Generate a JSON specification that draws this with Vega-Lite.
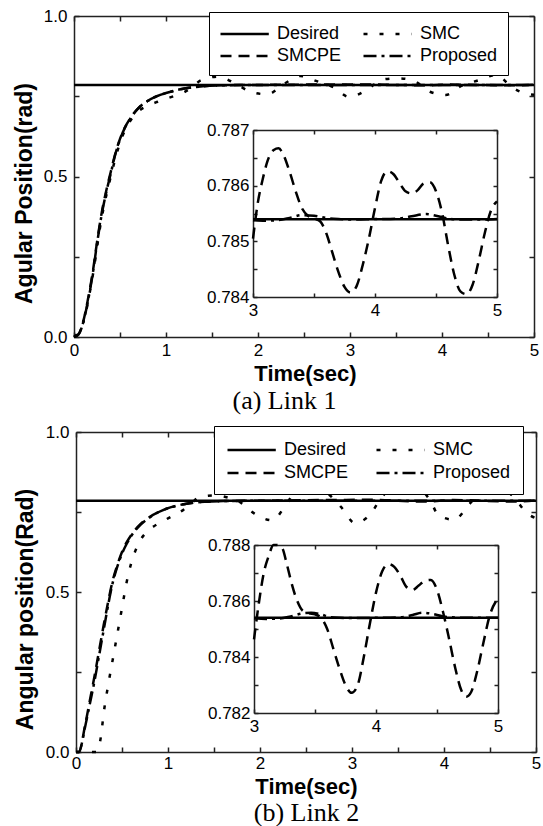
{
  "$schema": "https://vega.github.io/schema/vega-lite/v6.json",
  "background": "white",
  "width": 543,
  "height": 826,
  "autosize": {"type": "none"},
  "padding": 0,
  "config": {
    "view": {"stroke": null},
    "axis": {"grid": false, "domain": true, "domainColor": "#222", "domainWidth": 1.5, "labelFont": "Liberation Sans", "labelFontSize": 17, "labelColor": "black", "labelFlush": false, "labelOverlap": false, "tickColor": "#222", "tickWidth": 1.5, "titleFont": "Liberation Sans", "titleFontSize": 23, "titleFontWeight": "bold", "titleColor": "black"},
    "legend": {"labelFont": "Liberation Sans", "labelFontSize": 18, "labelColor": "black"}
  },
  "datasets": {
    "mainA": [
      {"series": "Desired", "time": 0, "pos": 0.7854}, {"series": "Desired", "time": 5, "pos": 0.7854},
      {"series": "SMC", "time": 0, "pos": 0}, {"series": "SMC", "time": 0.1, "pos": 0.045}, {"series": "SMC", "time": 0.2, "pos": 0.185}, {"series": "SMC", "time": 0.3, "pos": 0.37}, {"series": "SMC", "time": 0.4, "pos": 0.5}, {"series": "SMC", "time": 0.5, "pos": 0.605}, {"series": "SMC", "time": 0.6, "pos": 0.668}, {"series": "SMC", "time": 0.7, "pos": 0.703}, {"series": "SMC", "time": 0.8, "pos": 0.72}, {"series": "SMC", "time": 0.9, "pos": 0.732}, {"series": "SMC", "time": 1.0, "pos": 0.742}, {"series": "SMC", "time": 1.1, "pos": 0.752}, {"series": "SMC", "time": 1.2, "pos": 0.763}, {"series": "SMC", "time": 1.3, "pos": 0.782}, {"series": "SMC", "time": 1.38, "pos": 0.8}, {"series": "SMC", "time": 1.57, "pos": 0.811}, {"series": "SMC", "time": 1.75, "pos": 0.79}, {"series": "SMC", "time": 1.92, "pos": 0.764}, {"series": "SMC", "time": 2.1, "pos": 0.756}, {"series": "SMC", "time": 2.29, "pos": 0.79}, {"series": "SMC", "time": 2.46, "pos": 0.813}, {"series": "SMC", "time": 2.63, "pos": 0.798}, {"series": "SMC", "time": 2.82, "pos": 0.778}, {"series": "SMC", "time": 2.99, "pos": 0.748}, {"series": "SMC", "time": 3.18, "pos": 0.769}, {"series": "SMC", "time": 3.35, "pos": 0.802}, {"series": "SMC", "time": 3.52, "pos": 0.806}, {"series": "SMC", "time": 3.68, "pos": 0.8}, {"series": "SMC", "time": 3.87, "pos": 0.764}, {"series": "SMC", "time": 4.04, "pos": 0.754}, {"series": "SMC", "time": 4.21, "pos": 0.782}, {"series": "SMC", "time": 4.4, "pos": 0.8}, {"series": "SMC", "time": 4.59, "pos": 0.816}, {"series": "SMC", "time": 4.76, "pos": 0.778}, {"series": "SMC", "time": 4.93, "pos": 0.757}, {"series": "SMC", "time": 5.0, "pos": 0.755},
      {"series": "SMCPE", "time": 0, "pos": 0}, {"series": "SMCPE", "time": 0.05, "pos": 0.009}, {"series": "SMCPE", "time": 0.1, "pos": 0.048}, {"series": "SMCPE", "time": 0.15, "pos": 0.115}, {"series": "SMCPE", "time": 0.2, "pos": 0.195}, {"series": "SMCPE", "time": 0.25, "pos": 0.295}, {"series": "SMCPE", "time": 0.3, "pos": 0.385}, {"series": "SMCPE", "time": 0.35, "pos": 0.455}, {"series": "SMCPE", "time": 0.4, "pos": 0.515}, {"series": "SMCPE", "time": 0.45, "pos": 0.572}, {"series": "SMCPE", "time": 0.5, "pos": 0.617}, {"series": "SMCPE", "time": 0.55, "pos": 0.651}, {"series": "SMCPE", "time": 0.6, "pos": 0.676}, {"series": "SMCPE", "time": 0.7, "pos": 0.713}, {"series": "SMCPE", "time": 0.8, "pos": 0.735}, {"series": "SMCPE", "time": 0.9, "pos": 0.75}, {"series": "SMCPE", "time": 1.0, "pos": 0.76}, {"series": "SMCPE", "time": 1.1, "pos": 0.768}, {"series": "SMCPE", "time": 1.2, "pos": 0.774}, {"series": "SMCPE", "time": 1.4, "pos": 0.781}, {"series": "SMCPE", "time": 1.6, "pos": 0.784}, {"series": "SMCPE", "time": 2.0, "pos": 0.7853}, {"series": "SMCPE", "time": 3.2, "pos": 0.7867}, {"series": "SMCPE", "time": 3.8, "pos": 0.7841}, {"series": "SMCPE", "time": 4.1, "pos": 0.7863}, {"series": "SMCPE", "time": 4.75, "pos": 0.7841}, {"series": "SMCPE", "time": 5.0, "pos": 0.7857},
      {"series": "Proposed", "time": 0, "pos": 0}, {"series": "Proposed", "time": 0.05, "pos": 0.008}, {"series": "Proposed", "time": 0.1, "pos": 0.045}, {"series": "Proposed", "time": 0.15, "pos": 0.11}, {"series": "Proposed", "time": 0.2, "pos": 0.19}, {"series": "Proposed", "time": 0.25, "pos": 0.29}, {"series": "Proposed", "time": 0.3, "pos": 0.38}, {"series": "Proposed", "time": 0.35, "pos": 0.45}, {"series": "Proposed", "time": 0.4, "pos": 0.51}, {"series": "Proposed", "time": 0.45, "pos": 0.57}, {"series": "Proposed", "time": 0.5, "pos": 0.615}, {"series": "Proposed", "time": 0.55, "pos": 0.65}, {"series": "Proposed", "time": 0.6, "pos": 0.675}, {"series": "Proposed", "time": 0.7, "pos": 0.713}, {"series": "Proposed", "time": 0.8, "pos": 0.735}, {"series": "Proposed", "time": 0.9, "pos": 0.75}, {"series": "Proposed", "time": 1.0, "pos": 0.76}, {"series": "Proposed", "time": 1.1, "pos": 0.768}, {"series": "Proposed", "time": 1.2, "pos": 0.774}, {"series": "Proposed", "time": 1.3, "pos": 0.778}, {"series": "Proposed", "time": 1.4, "pos": 0.781}, {"series": "Proposed", "time": 1.6, "pos": 0.784}, {"series": "Proposed", "time": 1.8, "pos": 0.785}, {"series": "Proposed", "time": 2.0, "pos": 0.7853}, {"series": "Proposed", "time": 3.0, "pos": 0.7854}, {"series": "Proposed", "time": 5.0, "pos": 0.7854}
    ],
    "insetA": [
      {"series": "Desired", "time": 3, "pos": 0.785398}, {"series": "Desired", "time": 5, "pos": 0.785398},
      {"series": "SMCPE", "time": 3.0, "pos": 0.78505}, {"series": "SMCPE", "time": 3.04, "pos": 0.7857}, {"series": "SMCPE", "time": 3.08, "pos": 0.78612}, {"series": "SMCPE", "time": 3.12, "pos": 0.78645}, {"series": "SMCPE", "time": 3.17, "pos": 0.78664}, {"series": "SMCPE", "time": 3.21, "pos": 0.78667}, {"series": "SMCPE", "time": 3.25, "pos": 0.78655}, {"series": "SMCPE", "time": 3.3, "pos": 0.78625}, {"series": "SMCPE", "time": 3.35, "pos": 0.7859}, {"series": "SMCPE", "time": 3.4, "pos": 0.7856}, {"series": "SMCPE", "time": 3.45, "pos": 0.78546}, {"series": "SMCPE", "time": 3.5, "pos": 0.78541}, {"series": "SMCPE", "time": 3.55, "pos": 0.78536}, {"series": "SMCPE", "time": 3.6, "pos": 0.78515}, {"series": "SMCPE", "time": 3.65, "pos": 0.7848}, {"series": "SMCPE", "time": 3.7, "pos": 0.78445}, {"series": "SMCPE", "time": 3.75, "pos": 0.78418}, {"series": "SMCPE", "time": 3.8, "pos": 0.78408}, {"series": "SMCPE", "time": 3.85, "pos": 0.7842}, {"series": "SMCPE", "time": 3.9, "pos": 0.78458}, {"series": "SMCPE", "time": 3.95, "pos": 0.78505}, {"series": "SMCPE", "time": 4.0, "pos": 0.7856}, {"series": "SMCPE", "time": 4.05, "pos": 0.78608}, {"series": "SMCPE", "time": 4.1, "pos": 0.78626}, {"series": "SMCPE", "time": 4.15, "pos": 0.78621}, {"series": "SMCPE", "time": 4.2, "pos": 0.78605}, {"series": "SMCPE", "time": 4.25, "pos": 0.7859}, {"series": "SMCPE", "time": 4.3, "pos": 0.78586}, {"series": "SMCPE", "time": 4.35, "pos": 0.78592}, {"series": "SMCPE", "time": 4.4, "pos": 0.78604}, {"series": "SMCPE", "time": 4.45, "pos": 0.78606}, {"series": "SMCPE", "time": 4.5, "pos": 0.7859}, {"series": "SMCPE", "time": 4.55, "pos": 0.78551}, {"series": "SMCPE", "time": 4.6, "pos": 0.78492}, {"series": "SMCPE", "time": 4.65, "pos": 0.7844}, {"series": "SMCPE", "time": 4.7, "pos": 0.7841}, {"series": "SMCPE", "time": 4.75, "pos": 0.78405}, {"series": "SMCPE", "time": 4.8, "pos": 0.78422}, {"series": "SMCPE", "time": 4.85, "pos": 0.78465}, {"series": "SMCPE", "time": 4.9, "pos": 0.78515}, {"series": "SMCPE", "time": 4.95, "pos": 0.78555}, {"series": "SMCPE", "time": 5.0, "pos": 0.78572},
      {"series": "Proposed", "time": 3.0, "pos": 0.78538}, {"series": "Proposed", "time": 3.1, "pos": 0.78537}, {"series": "Proposed", "time": 3.2, "pos": 0.78538}, {"series": "Proposed", "time": 3.3, "pos": 0.78542}, {"series": "Proposed", "time": 3.4, "pos": 0.78547}, {"series": "Proposed", "time": 3.5, "pos": 0.78546}, {"series": "Proposed", "time": 3.6, "pos": 0.78542}, {"series": "Proposed", "time": 3.7, "pos": 0.7854}, {"series": "Proposed", "time": 3.8, "pos": 0.78539}, {"series": "Proposed", "time": 4.0, "pos": 0.7854}, {"series": "Proposed", "time": 4.2, "pos": 0.78541}, {"series": "Proposed", "time": 4.3, "pos": 0.78545}, {"series": "Proposed", "time": 4.42, "pos": 0.78549}, {"series": "Proposed", "time": 4.5, "pos": 0.78546}, {"series": "Proposed", "time": 4.6, "pos": 0.78541}, {"series": "Proposed", "time": 4.7, "pos": 0.78539}, {"series": "Proposed", "time": 4.85, "pos": 0.78539}, {"series": "Proposed", "time": 5.0, "pos": 0.7854}
    ],
    "mainB": [
      {"series": "Desired", "time": 0, "pos": 0.7854}, {"series": "Desired", "time": 5, "pos": 0.7854},
      {"series": "SMC", "time": 0, "pos": 0}, {"series": "SMC", "time": 0.22, "pos": 0}, {"series": "SMC", "time": 0.26, "pos": 0.03}, {"series": "SMC", "time": 0.31, "pos": 0.14}, {"series": "SMC", "time": 0.35, "pos": 0.21}, {"series": "SMC", "time": 0.4, "pos": 0.29}, {"series": "SMC", "time": 0.45, "pos": 0.37}, {"series": "SMC", "time": 0.5, "pos": 0.45}, {"series": "SMC", "time": 0.55, "pos": 0.53}, {"series": "SMC", "time": 0.6, "pos": 0.59}, {"series": "SMC", "time": 0.65, "pos": 0.632}, {"series": "SMC", "time": 0.7, "pos": 0.662}, {"series": "SMC", "time": 0.8, "pos": 0.695}, {"series": "SMC", "time": 0.9, "pos": 0.715}, {"series": "SMC", "time": 1.0, "pos": 0.73}, {"series": "SMC", "time": 1.08, "pos": 0.742}, {"series": "SMC", "time": 1.16, "pos": 0.755}, {"series": "SMC", "time": 1.25, "pos": 0.775}, {"series": "SMC", "time": 1.33, "pos": 0.795}, {"series": "SMC", "time": 1.5, "pos": 0.802}, {"series": "SMC", "time": 1.65, "pos": 0.795}, {"series": "SMC", "time": 1.77, "pos": 0.783}, {"series": "SMC", "time": 1.94, "pos": 0.745}, {"series": "SMC", "time": 2.13, "pos": 0.724}, {"series": "SMC", "time": 2.28, "pos": 0.771}, {"series": "SMC", "time": 2.4, "pos": 0.818}, {"series": "SMC", "time": 2.55, "pos": 0.824}, {"series": "SMC", "time": 2.71, "pos": 0.812}, {"series": "SMC", "time": 2.88, "pos": 0.766}, {"series": "SMC", "time": 3.03, "pos": 0.716}, {"series": "SMC", "time": 3.2, "pos": 0.743}, {"series": "SMC", "time": 3.32, "pos": 0.795}, {"series": "SMC", "time": 3.49, "pos": 0.83}, {"series": "SMC", "time": 3.68, "pos": 0.83}, {"series": "SMC", "time": 3.85, "pos": 0.786}, {"series": "SMC", "time": 3.94, "pos": 0.74}, {"series": "SMC", "time": 4.11, "pos": 0.726}, {"series": "SMC", "time": 4.28, "pos": 0.776}, {"series": "SMC", "time": 4.45, "pos": 0.826}, {"series": "SMC", "time": 4.6, "pos": 0.826}, {"series": "SMC", "time": 4.75, "pos": 0.799}, {"series": "SMC", "time": 4.9, "pos": 0.747}, {"series": "SMC", "time": 5.0, "pos": 0.73},
      {"series": "SMCPE", "time": 0, "pos": 0}, {"series": "SMCPE", "time": 0.03, "pos": 0}, {"series": "SMCPE", "time": 0.1, "pos": 0.085}, {"series": "SMCPE", "time": 0.15, "pos": 0.16}, {"series": "SMCPE", "time": 0.2, "pos": 0.235}, {"series": "SMCPE", "time": 0.25, "pos": 0.315}, {"series": "SMCPE", "time": 0.3, "pos": 0.395}, {"series": "SMCPE", "time": 0.35, "pos": 0.47}, {"series": "SMCPE", "time": 0.4, "pos": 0.537}, {"series": "SMCPE", "time": 0.45, "pos": 0.585}, {"series": "SMCPE", "time": 0.5, "pos": 0.625}, {"series": "SMCPE", "time": 0.55, "pos": 0.655}, {"series": "SMCPE", "time": 0.6, "pos": 0.678}, {"series": "SMCPE", "time": 0.7, "pos": 0.712}, {"series": "SMCPE", "time": 0.8, "pos": 0.734}, {"series": "SMCPE", "time": 0.9, "pos": 0.75}, {"series": "SMCPE", "time": 1.0, "pos": 0.762}, {"series": "SMCPE", "time": 1.1, "pos": 0.77}, {"series": "SMCPE", "time": 1.2, "pos": 0.776}, {"series": "SMCPE", "time": 1.4, "pos": 0.782}, {"series": "SMCPE", "time": 1.6, "pos": 0.784}, {"series": "SMCPE", "time": 2.0, "pos": 0.7853}, {"series": "SMCPE", "time": 3.2, "pos": 0.788}, {"series": "SMCPE", "time": 3.8, "pos": 0.7827}, {"series": "SMCPE", "time": 4.1, "pos": 0.7873}, {"series": "SMCPE", "time": 4.75, "pos": 0.7826}, {"series": "SMCPE", "time": 5.0, "pos": 0.7861},
      {"series": "Proposed", "time": 0, "pos": 0}, {"series": "Proposed", "time": 0.03, "pos": 0}, {"series": "Proposed", "time": 0.1, "pos": 0.08}, {"series": "Proposed", "time": 0.15, "pos": 0.15}, {"series": "Proposed", "time": 0.2, "pos": 0.22}, {"series": "Proposed", "time": 0.25, "pos": 0.3}, {"series": "Proposed", "time": 0.3, "pos": 0.38}, {"series": "Proposed", "time": 0.35, "pos": 0.46}, {"series": "Proposed", "time": 0.4, "pos": 0.53}, {"series": "Proposed", "time": 0.45, "pos": 0.58}, {"series": "Proposed", "time": 0.5, "pos": 0.62}, {"series": "Proposed", "time": 0.55, "pos": 0.65}, {"series": "Proposed", "time": 0.6, "pos": 0.675}, {"series": "Proposed", "time": 0.7, "pos": 0.71}, {"series": "Proposed", "time": 0.8, "pos": 0.733}, {"series": "Proposed", "time": 0.9, "pos": 0.75}, {"series": "Proposed", "time": 1.0, "pos": 0.762}, {"series": "Proposed", "time": 1.1, "pos": 0.77}, {"series": "Proposed", "time": 1.2, "pos": 0.776}, {"series": "Proposed", "time": 1.4, "pos": 0.782}, {"series": "Proposed", "time": 1.6, "pos": 0.784}, {"series": "Proposed", "time": 2.0, "pos": 0.7853}, {"series": "Proposed", "time": 3.0, "pos": 0.7854}, {"series": "Proposed", "time": 5.0, "pos": 0.7854}
    ],
    "insetB": [
      {"series": "Desired", "time": 3, "pos": 0.785398}, {"series": "Desired", "time": 5, "pos": 0.785398},
      {"series": "SMCPE", "time": 3.0, "pos": 0.78463}, {"series": "SMCPE", "time": 3.04, "pos": 0.78593}, {"series": "SMCPE", "time": 3.08, "pos": 0.787}, {"series": "SMCPE", "time": 3.12, "pos": 0.7876}, {"series": "SMCPE", "time": 3.16, "pos": 0.788}, {"series": "SMCPE", "time": 3.19, "pos": 0.7881}, {"series": "SMCPE", "time": 3.23, "pos": 0.7879}, {"series": "SMCPE", "time": 3.27, "pos": 0.7873}, {"series": "SMCPE", "time": 3.31, "pos": 0.7866}, {"series": "SMCPE", "time": 3.35, "pos": 0.78605}, {"series": "SMCPE", "time": 3.4, "pos": 0.78565}, {"series": "SMCPE", "time": 3.45, "pos": 0.78556}, {"series": "SMCPE", "time": 3.5, "pos": 0.78552}, {"series": "SMCPE", "time": 3.55, "pos": 0.7854}, {"series": "SMCPE", "time": 3.6, "pos": 0.785}, {"series": "SMCPE", "time": 3.65, "pos": 0.7843}, {"series": "SMCPE", "time": 3.7, "pos": 0.7836}, {"series": "SMCPE", "time": 3.75, "pos": 0.783}, {"series": "SMCPE", "time": 3.8, "pos": 0.78272}, {"series": "SMCPE", "time": 3.85, "pos": 0.783}, {"series": "SMCPE", "time": 3.9, "pos": 0.784}, {"series": "SMCPE", "time": 3.95, "pos": 0.7852}, {"series": "SMCPE", "time": 4.0, "pos": 0.7863}, {"series": "SMCPE", "time": 4.05, "pos": 0.78705}, {"series": "SMCPE", "time": 4.1, "pos": 0.78732}, {"series": "SMCPE", "time": 4.15, "pos": 0.78722}, {"series": "SMCPE", "time": 4.2, "pos": 0.7869}, {"series": "SMCPE", "time": 4.25, "pos": 0.7865}, {"series": "SMCPE", "time": 4.3, "pos": 0.7864}, {"series": "SMCPE", "time": 4.35, "pos": 0.78655}, {"series": "SMCPE", "time": 4.4, "pos": 0.78672}, {"series": "SMCPE", "time": 4.45, "pos": 0.78675}, {"series": "SMCPE", "time": 4.5, "pos": 0.7864}, {"series": "SMCPE", "time": 4.55, "pos": 0.7856}, {"series": "SMCPE", "time": 4.6, "pos": 0.78463}, {"series": "SMCPE", "time": 4.65, "pos": 0.7836}, {"series": "SMCPE", "time": 4.7, "pos": 0.7828}, {"series": "SMCPE", "time": 4.74, "pos": 0.78258}, {"series": "SMCPE", "time": 4.78, "pos": 0.78275}, {"series": "SMCPE", "time": 4.83, "pos": 0.7835}, {"series": "SMCPE", "time": 4.88, "pos": 0.7845}, {"series": "SMCPE", "time": 4.93, "pos": 0.78545}, {"series": "SMCPE", "time": 5.0, "pos": 0.7861},
      {"series": "Proposed", "time": 3.0, "pos": 0.78538}, {"series": "Proposed", "time": 3.1, "pos": 0.78536}, {"series": "Proposed", "time": 3.2, "pos": 0.78537}, {"series": "Proposed", "time": 3.3, "pos": 0.78545}, {"series": "Proposed", "time": 3.4, "pos": 0.78556}, {"series": "Proposed", "time": 3.47, "pos": 0.78558}, {"series": "Proposed", "time": 3.55, "pos": 0.78552}, {"series": "Proposed", "time": 3.62, "pos": 0.78543}, {"series": "Proposed", "time": 3.7, "pos": 0.7854}, {"series": "Proposed", "time": 3.8, "pos": 0.78539}, {"series": "Proposed", "time": 4.0, "pos": 0.7854}, {"series": "Proposed", "time": 4.2, "pos": 0.78542}, {"series": "Proposed", "time": 4.3, "pos": 0.7855}, {"series": "Proposed", "time": 4.38, "pos": 0.78558}, {"series": "Proposed", "time": 4.45, "pos": 0.78555}, {"series": "Proposed", "time": 4.55, "pos": 0.78545}, {"series": "Proposed", "time": 4.65, "pos": 0.78541}, {"series": "Proposed", "time": 4.8, "pos": 0.7854}, {"series": "Proposed", "time": 5.0, "pos": 0.7854}
    ]
  },
  "resolve": {
    "scale": {"x": "independent", "y": "independent", "strokeDash": "independent"},
    "axis": {"x": "independent", "y": "independent"},
    "legend": {"strokeDash": "independent"}
  },
  "layer": [
    {
      "data": {"name": "mainA"},
      "resolve": {"axis": {"x": "independent", "y": "independent"}},
      "layer": [
        {
          "mark": {"type": "line", "color": "black", "strokeWidth": 2.5, "interpolate": "monotone"},
          "encoding": {
            "x": {"field": "time", "type": "quantitative", "scale": {"domain": [0, 5], "range": [74, 534], "nice": false, "zero": false},
              "axis": {"orient": "bottom", "offset": -489, "values": [0, 0.5, 1, 1.5, 2, 2.5, 3, 3.5, 4, 4.5, 5], "labelExpr": "datum.value % 1 === 0 ? format(datum.value, 'd') : ''", "tickSize": -5, "labelPadding": 10, "title": "Time(sec)", "titleFontSize": 22, "titleBaseline": "middle", "titleX": 305, "titleY": 36}},
            "y": {"field": "pos", "type": "quantitative", "scale": {"domain": [0, 1], "range": [337, 16], "nice": false, "zero": false},
              "axis": {"orient": "left", "offset": -74, "values": [0, 0.25, 0.5, 0.75, 1], "labelExpr": "datum.value % 0.5 === 0 ? format(datum.value, '.1f') : ''", "tickSize": -5, "labelPadding": 12, "title": "Agular Position(rad)", "titlePadding": 7, "titleY": 193}},
            "strokeDash": {"field": "series", "type": "nominal",
              "scale": {"domain": ["Desired", "SMC", "SMCPE", "Proposed"], "range": [[1, 0], [4, 12], [11, 7], [13, 5, 3, 5]]},
              "legend": {"orient": "none", "legendX": 209, "legendY": 12, "direction": "horizontal", "columns": 2, "title": null, "padding": 10, "rowPadding": 1, "columnPadding": 16, "symbolType": "M-1,0H3.6", "symbolSize": 441, "symbolStrokeWidth": 2.5, "symbolStrokeColor": "black", "labelOffset": 34, "strokeColor": "black", "fillColor": "white"}}
          }
        },
        {
          "transform": [{"filter": "datum.series === 'Desired'"}],
          "mark": {"type": "line", "opacity": 0},
          "encoding": {
            "x": {"field": "time", "type": "quantitative", "scale": {"domain": [0, 5], "range": [74, 534], "nice": false, "zero": false},
              "axis": {"orient": "top", "offset": -16, "values": [0, 0.5, 1, 1.5, 2, 2.5, 3, 3.5, 4, 4.5, 5], "labels": false, "tickSize": -5, "title": null}},
            "y": {"field": "pos", "type": "quantitative", "scale": {"domain": [0, 1], "range": [337, 16], "nice": false, "zero": false},
              "axis": {"orient": "right", "offset": -9, "values": [0, 0.25, 0.5, 0.75, 1], "labels": false, "tickSize": -5, "title": null}}
          }
        },
        {
          "transform": [{"filter": "datum.series === 'Desired'"}],
          "mark": {"type": "line", "opacity": 0},
          "encoding": {
            "x": {"field": "time", "type": "quantitative", "scale": {"domain": [0, 5], "range": [74, 534], "nice": false, "zero": false},
              "axis": {"orient": "bottom", "offset": -489, "ticks": false, "labels": false, "domain": false, "title": "(a) Link 1", "titleFont": "Liberation Serif", "titleFontWeight": "normal", "titleFontSize": 26, "titleBaseline": "middle", "titleX": 284, "titleY": 63.5}}
          }
        }
      ]
    },
    {
      "data": {"name": "insetA"},
      "resolve": {"axis": {"x": "independent", "y": "independent"}},
      "layer": [
        {
          "transform": [{"filter": "datum.series === 'Desired'"}],
          "mark": {"type": "line", "color": "black", "strokeWidth": 2.5},
          "encoding": {
            "x": {"field": "time", "type": "quantitative", "scale": {"domain": [3, 5], "range": [253, 497], "nice": false, "zero": false},
              "axis": {"orient": "bottom", "offset": -529, "values": [3, 3.5, 4, 4.5, 5], "labelExpr": "datum.value % 1 === 0 ? format(datum.value, 'd') : ''", "tickSize": -4, "labelPadding": 9, "title": null}},
            "y": {"field": "pos", "type": "quantitative", "scale": {"domain": [0.784, 0.787], "range": [297, 130], "nice": false, "zero": false, "clamp": true},
              "axis": {"orient": "left", "offset": -253, "values": [0.784, 0.7845, 0.785, 0.7855, 0.786, 0.7865, 0.787], "labelExpr": "abs(datum.value * 1000 - round(datum.value * 1000)) < 0.01 ? format(datum.value, '.3f') : ''", "tickSize": -4, "labelPadding": 8, "title": null}}
          }
        },
        {
          "transform": [{"filter": "datum.series === 'SMCPE'"}],
          "mark": {"type": "line", "color": "black", "strokeWidth": 2.5, "strokeDash": [11, 7], "interpolate": "monotone"},
          "encoding": {
            "x": {"field": "time", "type": "quantitative", "scale": {"domain": [3, 5], "range": [253, 497], "nice": false, "zero": false}, "axis": null},
            "y": {"field": "pos", "type": "quantitative", "scale": {"domain": [0.784, 0.787], "range": [297, 130], "nice": false, "zero": false, "clamp": true}, "axis": null}
          }
        },
        {
          "transform": [{"filter": "datum.series === 'Proposed'"}],
          "mark": {"type": "line", "color": "black", "strokeWidth": 2.5, "strokeDash": [13, 5, 3, 5], "interpolate": "monotone"},
          "encoding": {
            "x": {"field": "time", "type": "quantitative", "scale": {"domain": [3, 5], "range": [253, 497], "nice": false, "zero": false}, "axis": null},
            "y": {"field": "pos", "type": "quantitative", "scale": {"domain": [0.784, 0.787], "range": [297, 130], "nice": false, "zero": false, "clamp": true}, "axis": null}
          }
        },
        {
          "transform": [{"filter": "datum.series === 'Desired'"}],
          "mark": {"type": "line", "opacity": 0},
          "encoding": {
            "x": {"field": "time", "type": "quantitative", "scale": {"domain": [3, 5], "range": [253, 497], "nice": false, "zero": false},
              "axis": {"orient": "top", "offset": -130, "values": [3, 3.5, 4, 4.5, 5], "labels": false, "tickSize": -4, "title": null}},
            "y": {"field": "pos", "type": "quantitative", "scale": {"domain": [0.784, 0.787], "range": [297, 130], "nice": false, "zero": false, "clamp": true},
              "axis": {"orient": "right", "offset": -46, "values": [0.784, 0.7845, 0.785, 0.7855, 0.786, 0.7865, 0.787], "labels": false, "tickSize": -4, "title": null}}
          }
        }
      ]
    },
    {
      "data": {"name": "mainB"},
      "resolve": {"axis": {"x": "independent", "y": "independent"}},
      "layer": [
        {
          "mark": {"type": "line", "color": "black", "strokeWidth": 2.5, "interpolate": "monotone"},
          "encoding": {
            "x": {"field": "time", "type": "quantitative", "scale": {"domain": [0, 5], "range": [76, 536], "nice": false, "zero": false},
              "axis": {"orient": "bottom", "offset": -74, "values": [0, 0.5, 1, 1.5, 2, 2.5, 3, 3.5, 4, 4.5, 5], "labelExpr": "datum.value % 1 === 0 ? format(datum.value, 'd') : ''", "tickSize": -5, "labelPadding": 8, "title": "Time(sec)", "titleFontSize": 22, "titleBaseline": "middle", "titleX": 306, "titleY": 34}},
            "y": {"field": "pos", "type": "quantitative", "scale": {"domain": [0, 1], "range": [752, 432], "nice": false, "zero": false},
              "axis": {"orient": "left", "offset": -76, "values": [0, 0.25, 0.5, 0.75, 1], "labelExpr": "datum.value % 0.5 === 0 ? format(datum.value, '.1f') : ''", "tickSize": -5, "labelPadding": 12, "title": "Angular position(Rad)", "titlePadding": 8, "titleY": 609}},
            "strokeDash": {"field": "series", "type": "nominal",
              "scale": {"domain": ["Desired", "SMC", "SMCPE", "Proposed"], "range": [[1, 0], [4, 12], [11, 7], [13, 5, 3, 5]]},
              "legend": {"orient": "none", "legendX": 214, "legendY": 426, "direction": "horizontal", "columns": 2, "title": null, "padding": 12, "rowPadding": 2, "columnPadding": 22, "symbolType": "M-1,0H3.6", "symbolSize": 441, "symbolStrokeWidth": 2.5, "symbolStrokeColor": "black", "labelOffset": 34, "strokeColor": "black", "fillColor": "white"}}
          }
        },
        {
          "transform": [{"filter": "datum.series === 'Desired'"}],
          "mark": {"type": "line", "opacity": 0},
          "encoding": {
            "x": {"field": "time", "type": "quantitative", "scale": {"domain": [0, 5], "range": [76, 536], "nice": false, "zero": false},
              "axis": {"orient": "top", "offset": -432, "values": [0, 0.5, 1, 1.5, 2, 2.5, 3, 3.5, 4, 4.5, 5], "labels": false, "tickSize": -5, "title": null}},
            "y": {"field": "pos", "type": "quantitative", "scale": {"domain": [0, 1], "range": [752, 432], "nice": false, "zero": false},
              "axis": {"orient": "right", "offset": -7, "values": [0, 0.25, 0.5, 0.75, 1], "labels": false, "tickSize": -5, "title": null}}
          }
        },
        {
          "transform": [{"filter": "datum.series === 'Desired'"}],
          "mark": {"type": "line", "opacity": 0},
          "encoding": {
            "x": {"field": "time", "type": "quantitative", "scale": {"domain": [0, 5], "range": [76, 536], "nice": false, "zero": false},
              "axis": {"orient": "bottom", "offset": -74, "ticks": false, "labels": false, "domain": false, "title": "(b) Link 2", "titleFont": "Liberation Serif", "titleFontWeight": "normal", "titleFontSize": 26, "titleBaseline": "middle", "titleX": 306, "titleY": 60.5}}
          }
        }
      ]
    },
    {
      "data": {"name": "insetB"},
      "resolve": {"axis": {"x": "independent", "y": "independent"}},
      "layer": [
        {
          "transform": [{"filter": "datum.series === 'Desired'"}],
          "mark": {"type": "line", "color": "black", "strokeWidth": 2.5},
          "encoding": {
            "x": {"field": "time", "type": "quantitative", "scale": {"domain": [3, 5], "range": [254, 498], "nice": false, "zero": false},
              "axis": {"orient": "bottom", "offset": -113, "values": [3, 3.5, 4, 4.5, 5], "labelExpr": "datum.value % 1 === 0 ? format(datum.value, 'd') : ''", "tickSize": -4, "labelPadding": 9, "title": null}},
            "y": {"field": "pos", "type": "quantitative", "scale": {"domain": [0.782, 0.788], "range": [713, 545], "nice": false, "zero": false, "clamp": true},
              "axis": {"orient": "left", "offset": -254, "values": [0.782, 0.783, 0.784, 0.785, 0.786, 0.787, 0.788], "labelExpr": "round(datum.value * 1000) % 2 === 0 ? format(datum.value, '.3f') : ''", "tickSize": -4, "labelPadding": 8, "title": null}}
          }
        },
        {
          "transform": [{"filter": "datum.series === 'SMCPE'"}],
          "mark": {"type": "line", "color": "black", "strokeWidth": 2.5, "strokeDash": [11, 7], "interpolate": "monotone"},
          "encoding": {
            "x": {"field": "time", "type": "quantitative", "scale": {"domain": [3, 5], "range": [254, 498], "nice": false, "zero": false}, "axis": null},
            "y": {"field": "pos", "type": "quantitative", "scale": {"domain": [0.782, 0.788], "range": [713, 545], "nice": false, "zero": false, "clamp": true}, "axis": null}
          }
        },
        {
          "transform": [{"filter": "datum.series === 'Proposed'"}],
          "mark": {"type": "line", "color": "black", "strokeWidth": 2.5, "strokeDash": [13, 5, 3, 5], "interpolate": "monotone"},
          "encoding": {
            "x": {"field": "time", "type": "quantitative", "scale": {"domain": [3, 5], "range": [254, 498], "nice": false, "zero": false}, "axis": null},
            "y": {"field": "pos", "type": "quantitative", "scale": {"domain": [0.782, 0.788], "range": [713, 545], "nice": false, "zero": false, "clamp": true}, "axis": null}
          }
        },
        {
          "transform": [{"filter": "datum.series === 'Desired'"}],
          "mark": {"type": "line", "opacity": 0},
          "encoding": {
            "x": {"field": "time", "type": "quantitative", "scale": {"domain": [3, 5], "range": [254, 498], "nice": false, "zero": false},
              "axis": {"orient": "top", "offset": -545, "values": [3, 3.5, 4, 4.5, 5], "labels": false, "tickSize": -4, "title": null}},
            "y": {"field": "pos", "type": "quantitative", "scale": {"domain": [0.782, 0.788], "range": [713, 545], "nice": false, "zero": false, "clamp": true},
              "axis": {"orient": "right", "offset": -45, "values": [0.782, 0.783, 0.784, 0.785, 0.786, 0.787, 0.788], "labels": false, "tickSize": -4, "title": null}}
          }
        }
      ]
    }
  ]
}
